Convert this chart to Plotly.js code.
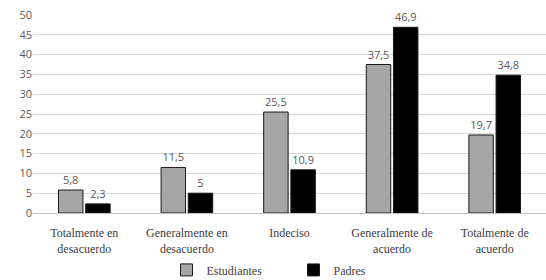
<!DOCTYPE html>
<html><head><meta charset="utf-8">
<script src="https://cdn.plot.ly/plotly-3.0.1.min.js"></script>
<style>html,body{margin:0;padding:0;background:#fff}#c{width:546px;height:280px}</style>
</head><body><div id="c"></div>
<script>
const categories = ["Totalmente en<br>desacuerdo","Generalmente en<br>desacuerdo","Indeciso","Generalmente de<br>acuerdo","Totalmente de<br>acuerdo"];
const estudiantes = [5.8, 11.5, 25.5, 37.5, 19.7];
const padres = [2.3, 5, 10.9, 46.9, 34.8];
const estLabels = ["5,8","11,5","25,5","37,5","19,7"];
const padLabels = ["2,3","5","10,9","46,9","34,8"];

const serif = "Liberation Serif";
const sans = "Open Sans, Liberation Sans, sans-serif";
const labelFont = {family: sans, size: 11, color: "#595959"};
const traces = [
  {type:"bar", name:"Estudiantes", x:categories, y:estudiantes, text:estLabels,
   textposition:"outside", textfont:labelFont, cliponaxis:false,
   marker:{color:"#a6a6a6", line:{color:"#1a1a1a", width:1}}},
  {type:"bar", name:"Padres", x:categories, y:padres, text:padLabels,
   textposition:"outside", textfont:labelFont, cliponaxis:false,
   marker:{color:"#000000", line:{color:"#1a1a1a", width:1}}}
];
const layout = {
  width:546, height:280,
  margin:{l:33, r:0, t:15, b:67},
  font:{family:serif, size:12, color:"#404040"},
  paper_bgcolor:"#fff", plot_bgcolor:"#fff",
  barmode:"group", bargap:0.47, bargroupgap:0.1,
  showlegend:true,
  legend:{orientation:"h", x:0.305, xanchor:"left", xref:"container",
          y:0.036, yanchor:"middle", yref:"container", bgcolor:"rgba(0,0,0,0)",
          font:{family:serif, size:12, color:"#404040"},
          entrywidth:82, entrywidthmode:"pixels", itemwidth:30, traceorder:"normal"},
  xaxis:{tickfont:{family:serif, size:12, color:"#404040"},
         showgrid:false, showline:false, ticks:"outside", ticklen:9, tickcolor:"rgba(0,0,0,0)",
         automargin:false},
  yaxis:{range:[0,50], dtick:5, showgrid:true, gridcolor:"#d9d9d9", gridwidth:1,
         zeroline:true, zerolinecolor:"#bfbfbf", zerolinewidth:1,
         tickfont:{family:sans, size:11, color:"#595959"},
         ticks:"", ticklen:0, automargin:false}
};
Plotly.newPlot("c", traces, layout, {displayModeBar:false, staticPlot:true});
</script></body></html>
